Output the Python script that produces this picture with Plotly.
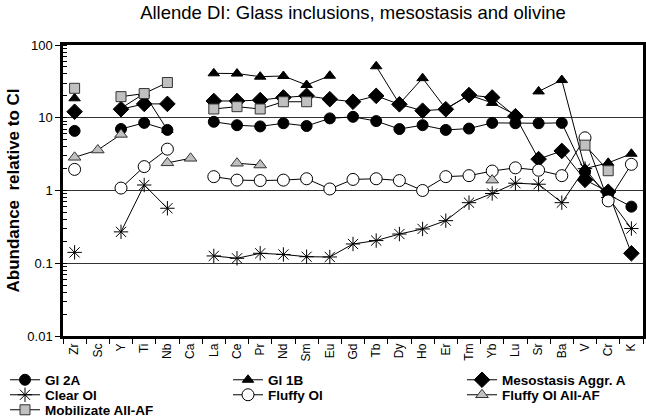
import plotly.graph_objects as go

cats = ["Zr", "Sc", "Y", "Ti", "Nb", "Ca", "La", "Ce", "Pr", "Nd", "Sm", "Eu", "Gd",
        "Tb", "Dy", "Ho", "Er", "Tm", "Yb", "Lu", "Sr", "Ba", "V", "Cr", "K"]

gl2a = [6.6, None, 7.0, 8.5, 6.8, None, 8.8, 7.9, 7.6, 8.4, 7.7, 9.8, 10.3,
        9.0, 7.0, 7.9, 6.8, 7.1, 8.5, 8.4, 8.4, 8.5, 1.8, 0.88, 0.6]
gl1b = [18.5, None, 13.5, 21.5, 6.8, None, 40.8, 40.5, 36.7, 37.5, 28.2, 37.8, None,
        51, 15.5, 35, 13.3, 20.5, 16, 11, 23, 33, 2.0, 2.4, 3.2]
meso = [12.1, None, 13.1, 15.5, 15.5, None, 17, 17, 17.5, 19, 20, 18, 16.6,
        20, 15.3, 12.5, 13.1, 20.5, 19, 10.5, 2.7, 3.5, 1.4, 0.96, 0.137]
clear_ol = [0.141, None, 0.27, 1.19, 0.57, None, 0.126, 0.117, 0.137, 0.132, 0.123, 0.122, 0.184,
            0.205, 0.252, 0.296, 0.385, 0.68, 0.91, 1.26, 1.22, 0.68, 2.0, 0.8, 0.30]
fluffy_ol = [1.95, None, 1.08, 2.13, 3.7, None, 1.55, 1.39, 1.37, 1.39, 1.45, 1.05, 1.42,
             1.45, 1.37, 1.0, 1.55, 1.6, 1.85, 2.05, 1.9, 1.6, 5.3, 0.72, 2.29]
fluffy_af = [2.86, 3.6, 5.9, None, 2.4, 2.77, None, 2.37, 2.24, None, None, None, None,
             None, None, None, None, None, 1.39, None, None, None, None, None, None]
mobil_af = [25.4, None, 19.5, 21.5, 30.5, None, 13.2, 14.2, 13.2, 16.6, 16.6, None, None,
            None, None, None, None, None, None, None, None, None, 4.2, 1.87, None]

# Gl 1B has a break between Lu and Sr
split = cats.index("Sr")
gl1b_a = [v if i < split else None for i, v in enumerate(gl1b)]
gl1b_b = [v if i >= split else None for i, v in enumerate(gl1b)]

FONT = "Liberation Sans, Arial, sans-serif"
GRAY = "#c0c0c0"
line = dict(color="black", width=1)

fig = go.Figure()

def add(name, y, symbol, size, fill, lcol="black", lw=1, legend="legend", showlegend=True, group=None):
    fig.add_trace(go.Scatter(
        x=cats, y=y, name=name, mode="lines+markers",
        line=line, connectgaps=False,
        marker=dict(symbol=symbol, size=size, color=fill, line=dict(color=lcol, width=lw)),
        legend=legend, showlegend=showlegend, legendgroup=group or name,
    ))

add("Gl 2A", gl2a, "circle", 11, "black", legend="legend")
add("Gl 1B", gl1b_a, "triangle-up", 10, "black", legend="legend2")
add("Gl 1B", gl1b_b, "triangle-up", 10, "black", legend="legend2", showlegend=False)
add("Mesostasis Aggr. A", meso, "diamond", 12, "black", legend="legend3")
add("Clear Ol", clear_ol, "asterisk-open", 12, "black", lw=1, legend="legend4")
add("Fluffy Ol", fluffy_ol, "circle", 12, "white", lw=1, legend="legend5")
add("Fluffy Ol All-AF", fluffy_af, "triangle-up", 11, GRAY, lcol="#333", lw=1, legend="legend6")
add("Mobilizate All-AF", mobil_af, "square", 10, GRAY, lcol="#333", lw=1, legend="legend7")

L, R, T, B = 63, 3, 45, 81
W, H = 646, 417
pw = W - L - R
ph = H - T - B

def px_x(x):
    return (x - L) / pw

def px_y(y):
    return (H - B - y) / ph

col_x = [5, 228, 462]
row_y = [380, 395, 410]
pos = {
    "legend": (col_x[0], row_y[0]),
    "legend2": (col_x[1], row_y[0]),
    "legend3": (col_x[2], row_y[0]),
    "legend4": (col_x[0], row_y[1]),
    "legend5": (col_x[1], row_y[1]),
    "legend6": (col_x[2], row_y[1]),
    "legend7": (col_x[0], row_y[2]),
}
legends = {}
for k, (lx, ly) in pos.items():
    legends[k] = dict(
        x=px_x(lx), y=px_y(ly), xanchor="left", yanchor="middle",
        orientation="v", bgcolor="rgba(0,0,0,0)", borderwidth=0,
        font=dict(family=FONT, size=13.5, color="black", weight="bold"),
        itemclick=False, itemdoubleclick=False,
    )

fig.update_layout(
    width=W, height=H,
    margin=dict(l=L, r=R, t=T, b=B, autoexpand=False),
    paper_bgcolor="white", plot_bgcolor="white",
    font=dict(family=FONT, size=12, color="black"),
    title=dict(text="Allende DI: Glass inclusions, mesostasis and olivine",
               xref="paper", x=0.5, xanchor="center",
               yref="container", y=1 - 13 / H, yanchor="middle",
               font=dict(family=FONT, size=18.5, color="black")),
    showlegend=True,
    **legends,
)

fig.update_xaxes(
    type="category", categoryorder="array", categoryarray=cats,
    range=[-0.5, len(cats) - 0.5],
    tickangle=-90, tickfont=dict(family=FONT, size=12, color="black"),
    ticks="outside", ticklen=5, tickcolor="black", tickson="boundaries",
    showline=True, linecolor="black", linewidth=2.5, mirror=True,
    showgrid=False, zeroline=False, automargin=False,
)
fig.update_yaxes(
    type="log", range=[-2, 2],
    tickvals=[0.01, 0.1, 1, 10, 100], ticktext=["0.01", "0.1", "1", "10", "100"],
    tickfont=dict(family=FONT, size=13, color="black"),
    ticks="outside", ticklen=5, tickcolor="black",
    minor=dict(ticks="inside", ticklen=4, tickcolor="black", dtick="D1", showgrid=False),
    showline=True, linecolor="black", linewidth=2.5, mirror=True,
    showgrid=True, gridcolor="#333", gridwidth=1, zeroline=False, automargin=False,
    title=dict(text="<b>Abundance  relative to CI</b>", standoff=4,
               font=dict(family=FONT, size=17, color="black")),
)

fig.write_html("out.html", config={"displayModeBar": False},
               post_script="document.body.style.margin='0';document.body.style.overflow='hidden';")
